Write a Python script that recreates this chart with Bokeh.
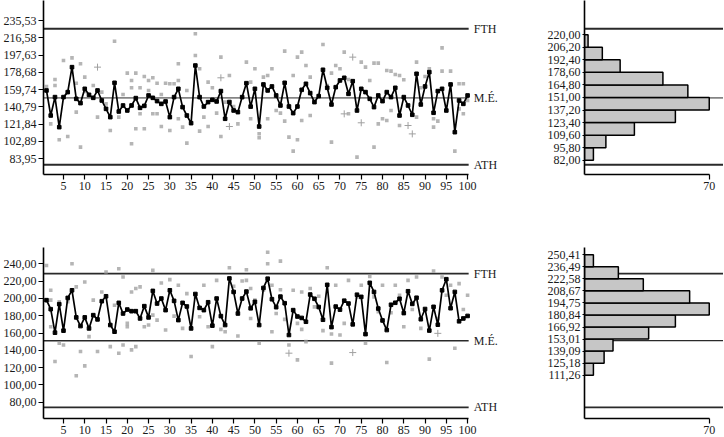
from bokeh.plotting import figure
from bokeh.layouts import column, row
from bokeh.models import Range1d, FixedTicker, CustomJSTickFormatter
from bokeh.core.properties import value
from bokeh.embed import file_html
from bokeh.resources import INLINE

FONT = "Liberation Serif"
TXT = "#1a1a1a"

# ---------------- data ----------------
samples = list(range(1, 101))
x_ticks = list(range(5, 101, 5))

top_mean = [158.7, 131.2, 151.4, 118.4, 151.4, 156.9, 184.3, 149.5, 144.8, 160.5,
            153.9, 150.6, 158.7, 147.7, 138.5, 129.4, 167.1, 135.6, 142.2, 136.7,
            142.2, 150.3, 139.6, 141.8, 153.2, 150.6, 147.0, 144.0, 146.6, 129.4,
            151.4, 160.5, 140.4, 131.2, 122.8, 186.1, 151.4, 141.1, 145.9, 148.4,
            146.6, 158.0, 127.6, 146.0, 136.7, 134.9, 151.4, 166.7, 141.0, 160.5,
            119.1, 165.3, 158.7, 163.1, 153.2, 142.2, 167.1, 141.1, 133.8, 141.1,
            159.4, 166.0, 155.8, 145.9, 152.5, 181.4, 161.6, 143.3, 162.3, 169.7,
            172.6, 155.0, 168.9, 136.7, 160.5, 156.9, 149.5, 140.4, 153.2, 147.0,
            156.9, 151.4, 161.6, 131.2, 151.4, 142.2, 132.0, 177.0, 143.3, 163.1,
            178.8, 134.2, 158.0, 160.5, 136.7, 165.3, 112.9, 147.7, 144.0, 153.2]

top_obs = [(1, 163.0), (3, 170.8), (3, 164.2), (2, 122.0), (4, 104.5), (5, 191.6), (6, 108.2),
           (7, 194.5), (8, 134.9), (8, 166.7), (9, 188.0), (9, 96.5), (10, 173.3), (10, 157.7),
           (12, 164.2), (13, 129.4), (14, 156.9), (15, 144.0), (16, 114.8), (17, 212.8),
           (18, 129.4), (19, 154.3), (20, 177.7), (21, 169.7), (21, 100.1), (21, 161.6),
           (22, 177.7), (22, 116.6), (23, 161.6), (23, 133.1), (24, 116.6), (24, 174.1),
           (25, 158.7), (25, 169.7), (26, 172.6), (26, 133.1), (27, 166.7), (27, 133.1),
           (28, 119.1), (28, 154.3), (29, 166.7), (30, 114.8), (30, 166.0), (31, 166.0),
           (32, 188.0), (32, 169.7), (32, 127.6), (33, 118.4), (34, 100.9), (34, 158.7),
           (36, 220.9), (36, 197.1), (37, 182.5), (37, 114.0), (38, 129.4), (39, 167.8),
           (39, 119.1), (40, 161.6), (41, 133.8), (42, 195.3), (42, 108.2), (43, 145.9),
           (44, 175.1), (45, 141.1), (46, 122.0), (48, 189.8), (49, 127.6), (49, 167.8),
           (50, 182.5), (51, 111.1), (51, 106.7), (52, 173.3), (53, 175.1), (53, 127.6),
           (54, 182.5), (55, 136.7), (56, 133.8), (57, 201.9), (57, 125.0), (58, 107.4),
           (59, 175.1), (59, 92.1), (60, 195.3), (60, 104.5), (61, 200.8), (61, 125.7),
           (62, 186.1), (63, 173.3), (63, 131.2), (66, 209.2), (67, 164.2), (68, 177.7),
           (68, 102.0), (69, 186.1), (70, 182.5), (71, 200.8), (72, 170.7), (72, 133.1),
           (74, 85.5), (75, 189.8), (76, 184.3), (77, 169.7), (78, 188.7), (78, 96.5),
           (79, 188.7), (79, 122.0), (80, 127.6), (81, 180.6), (81, 125.7), (82, 179.9),
           (82, 136.7), (83, 176.2), (84, 120.2), (84, 175.1), (85, 170.4), (88, 189.8),
           (88, 129.4), (89, 161.6), (90, 174.1), (91, 182.5), (92, 118.4), (92, 127.6),
           (93, 125.0), (94, 205.5), (94, 179.9), (96, 179.9), (97, 92.1), (98, 166.0),
           (98, 138.5), (99, 166.0), (99, 133.1), (100, 147.7)]
top_cross = [(13, 184.3), (42, 172.6), (44, 119.1), (73, 195.3), (75, 123.2), (71, 133.0),
             (86, 120.2), (87, 111.0)]

top_ticks = [83.95, 102.89, 121.84, 140.79, 159.74, 178.68, 197.63, 216.58, 235.53]
top_limit_names = ["FTH", "M.É.", "ATH"]
top_limit_values = [226.4, 150.5, 77.2]
top_hist_edges = [82.0, 95.8, 109.6, 123.4, 137.2, 151.0, 164.8, 178.6, 192.4, 206.2, 220.0]
top_hist_counts = [5, 12, 28, 51, 70, 58, 44, 20, 10, 2]

bot_mean = [197.9, 187.5, 160.4, 193.3, 162.7, 200.5, 209.3, 178.0, 168.0, 178.0,
            165.3, 180.6, 175.7, 196.7, 202.4, 169.2, 161.5, 194.8, 182.5, 187.1,
            185.2, 185.2, 176.8, 191.0, 178.0, 208.6, 194.0, 199.8, 186.4, 209.3,
            197.1, 174.9, 194.8, 190.6, 165.3, 205.0, 189.0, 186.4, 195.5, 168.5,
            199.8, 179.5, 169.2, 223.0, 207.4, 182.5, 199.8, 207.8, 188.5, 196.0,
            169.2, 212.0, 222.7, 199.0, 189.8, 202.0, 194.4, 157.7, 186.4, 179.0,
            177.4, 173.0, 204.4, 199.5, 190.0, 175.3, 215.6, 166.8, 190.5, 187.0,
            197.3, 194.0, 170.0, 204.2, 201.7, 158.7, 217.9, 207.4, 188.2, 174.5,
            163.4, 192.6, 194.9, 199.5, 183.0, 208.2, 193.6, 200.7, 175.9, 187.7,
            162.8, 190.2, 169.6, 209.3, 222.1, 188.6, 207.4, 173.5, 176.8, 179.7]

bot_obs = [(1, 238.0), (2, 209.3), (2, 167.2), (2, 197.9), (3, 127.1), (4, 196.0), (4, 148.1),
           (5, 146.2), (6, 196.0), (7, 240.0), (8, 110.6), (8, 213.2), (9, 138.6), (10, 218.9),
           (10, 122.1), (11, 155.8), (12, 197.9), (13, 138.6), (14, 207.4), (15, 230.4),
           (16, 144.3), (17, 192.1), (18, 234.2), (18, 136.6), (19, 224.6), (19, 146.2),
           (20, 171.1), (20, 167.2), (21, 140.5), (21, 207.4), (22, 211.3), (22, 144.3),
           (23, 213.2), (24, 167.2), (25, 169.2), (26, 232.3), (26, 180.6), (27, 174.9),
           (28, 217.7), (29, 163.4), (30, 221.6), (31, 179.5), (32, 215.1), (33, 165.3),
           (34, 205.5), (35, 132.8), (36, 201.7), (37, 178.7), (38, 215.1), (39, 167.2),
           (40, 144.3), (41, 220.8), (42, 164.2), (43, 161.5), (44, 235.3), (45, 213.9),
           (46, 156.5), (47, 220.0), (48, 233.0), (49, 211.3), (48, 220.8), (49, 176.8),
           (50, 197.9), (51, 148.1), (52, 209.3), (53, 253.3), (53, 240.0), (54, 215.1),
           (54, 161.5), (55, 182.5), (56, 243.0), (56, 210.0), (57, 175.7), (58, 146.2),
           (59, 209.3), (60, 129.0), (60, 171.1), (61, 207.4), (61, 164.2), (62, 150.0),
           (63, 211.3), (64, 190.2), (65, 202.4), (66, 162.7), (67, 235.3), (68, 125.2),
           (68, 158.8), (69, 215.1), (70, 157.7), (71, 171.1), (72, 220.8), (74, 201.7),
           (75, 215.1), (76, 148.1), (77, 225.4), (78, 201.7), (79, 184.5), (80, 215.1),
           (81, 125.9), (82, 183.3), (83, 215.1), (84, 203.6), (85, 167.2), (86, 220.8),
           (87, 187.1), (88, 224.6), (89, 165.3), (90, 186.4), (91, 129.8), (92, 231.5),
           (93, 176.8), (94, 224.6), (95, 203.6), (96, 215.1), (97, 142.4), (98, 217.0),
           (99, 187.1), (100, 203.6)]
bot_cross = [(58, 136.7), (73, 137.4), (93, 159.6)]

bot_ticks = [80, 100, 120, 140, 160, 180, 200, 220, 240]
bot_limit_names = ["FTH", "M.É.", "ATH"]
bot_limit_values = [228.5, 151.1, 74.2]
bot_hist_edges = [111.26, 125.18, 139.09, 153.01, 166.92, 180.84, 194.75, 208.67, 222.58, 236.49, 250.41]
bot_hist_counts = [5, 11, 16, 36, 51, 70, 59, 33, 19, 5]

hist_ticks = [70]

# ---------------- layout constants ----------------
X_LO, X_HI, X_END = 0.3, 100.25, 116.2
H_END = 78.0
COMMA = CustomJSTickFormatter(code="return tick.toFixed(2).replace('.', ',');")


def style(p):
    for ax in p.axis:
        ax.axis_line_color = "black"
        ax.axis_line_width = 1.6
        ax.major_tick_line_color = "black"
        ax.major_tick_line_width = 1.2
        ax.major_tick_out = 5
        ax.major_tick_in = 0
        ax.minor_tick_line_color = None
        ax.major_label_text_font = FONT
        ax.major_label_text_font_size = "12px"
        ax.major_label_text_color = TXT
        ax.major_label_standoff = 2
    p.xgrid.grid_line_color = None
    p.ygrid.grid_line_color = None
    p.outline_line_color = None


def control(yr, yticks, mean, obs, crosses, names, levels, height, bt, bb, lw):
    p = figure(width=536, height=height, x_range=Range1d(X_LO, X_END), y_range=yr,
               output_backend="svg", toolbar_location=None,
               min_border_left=41, min_border_right=0, min_border_top=bt, min_border_bottom=bb)
    for lv, w in zip(levels, lw):
        p.line([X_LO, X_HI], [lv, lv], line_color="#2a2a2a", line_width=w)
    ox = [o[0] for o in obs]
    oy = [o[1] for o in obs]
    p.scatter(ox, oy, marker="square", size=3.6, fill_color="#9c9c9c", line_color=None, alpha=0.75)
    cx = [c[0] for c in crosses]
    cy = [c[1] for c in crosses]
    p.scatter(cx, cy, marker="cross", size=7, line_color="#a0a0a0", line_width=1)
    p.line(samples, mean, line_color="black", line_width=1.7)
    p.scatter(samples, mean, marker="square", size=3.6, fill_color="black", line_color="black")
    p.text(x=[X_HI + 1.2] * len(levels), y=levels, text=names, text_font=value(FONT),
           text_font_size="12px", text_baseline="middle", text_color=TXT)
    p.xaxis.ticker = FixedTicker(ticks=x_ticks)
    p.xaxis.bounds = (X_LO, X_HI)
    p.yaxis.ticker = FixedTicker(ticks=yticks)
    p.yaxis.formatter = COMMA
    style(p)
    return p


def hist(yr, edges, counts, levels, height, bt, bb, lw):
    p = figure(width=187, height=height, x_range=Range1d(0, H_END), y_range=yr,
               output_backend="svg", toolbar_location=None,
               min_border_left=48, min_border_right=0, min_border_top=bt, min_border_bottom=bb)
    for lv, w in zip(levels, lw):
        p.line([0, H_END], [lv, lv], line_color="#2a2a2a", line_width=w)
    centers = [(a + b) / 2 for a, b in zip(edges[:-1], edges[1:])]
    heights = [b - a for a, b in zip(edges[:-1], edges[1:])]
    p.hbar(y=centers, height=heights, left=0, right=counts, fill_color="#c6c6c6",
           line_color="black", line_width=1.5)
    p.xaxis.ticker = FixedTicker(ticks=hist_ticks)
    p.xaxis.bounds = (0, hist_ticks[-1])
    p.yaxis.ticker = FixedTicker(ticks=edges)
    p.yaxis.formatter = COMMA
    style(p)
    p.yaxis.major_tick_out = 2
    p.yaxis.major_label_standoff = 2
    return p


yr_top = Range1d(66.4, 257.5)
yr_bot = Range1d(61.3, 258.7)

c1 = control(yr_top, top_ticks, top_mean, top_obs, top_cross, top_limit_names, top_limit_values,
             225, 0, 51, [2, 1, 2])
h1 = hist(yr_top, top_hist_edges, top_hist_counts, top_limit_values, 225, 0, 51, [2, 1, 2])
c2 = control(yr_bot, bot_ticks, bot_mean, bot_obs, bot_cross, bot_limit_names, bot_limit_values,
             211, 22, 17, [1.6, 1.6, 1.6])
h2 = hist(yr_bot, bot_hist_edges, bot_hist_counts, bot_limit_values, 211, 22, 17, [1.6, 1.2, 1.6])

layout = column(row(c1, h1), row(c2, h2))
open("out.html", "w").write(file_html(layout, INLINE))
